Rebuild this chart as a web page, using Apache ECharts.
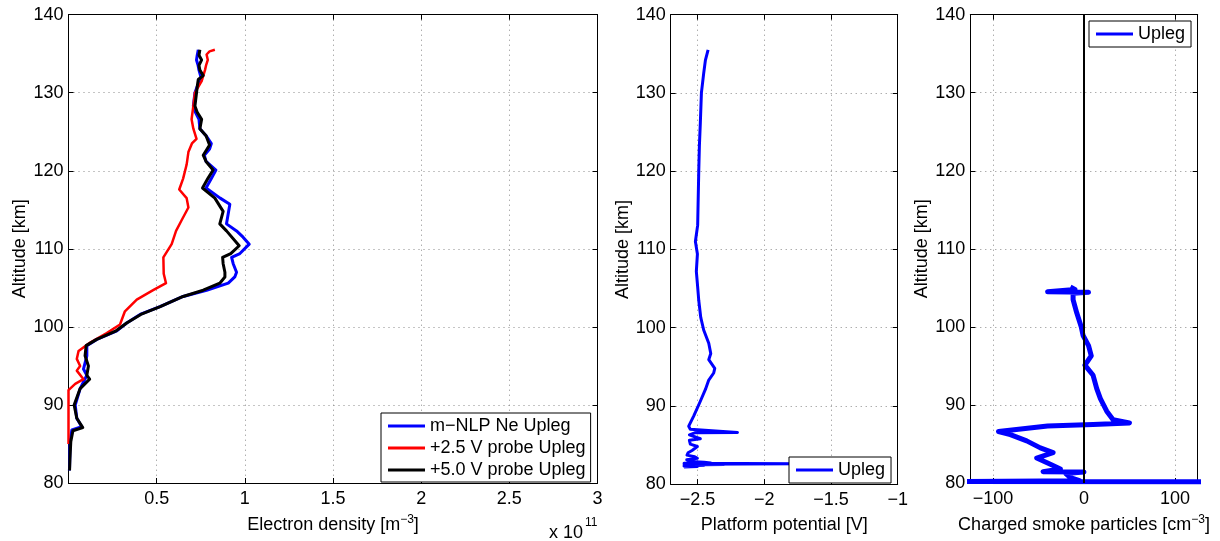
<!DOCTYPE html>
<html>
<head>
<meta charset="utf-8">
<script src="https://cdn.jsdelivr.net/npm/echarts@6/dist/echarts.min.js"></script>
<style>
html,body{margin:0;padding:0;background:#fff;}
#chart{width:1220px;height:541px;}
</style>
</head>
<body>
<div id="chart"></div>
<script>
// ---------- Tick values ----------
const altTicks = [80, 90, 100, 110, 120, 130, 140];
const neTicks = [0.5, 1, 1.5, 2, 2.5, 3];
const potTicks = [-2.5, -2, -1.5, -1];
const smokeTicks = [-100, 0, 100];

// ---------- Panel 1: electron density (x 1e11 m^-3) vs altitude (km) ----------
const blueAlt = [135.5,134.8,134.2,133.5,132.9,131.7,130.8,130,128.3,127.5,126.6,125.4,124.5,123.5,122.8,122,121.2,120.1,119,117.8,116.5,115.7,114.4,113.2,112.3,111.5,110.6,109.4,108.9,108.1,107,106.4,105.6,104.7,103.9,102.6,101.6,100.5,99.5,98.4,97.6,96.3,94.6,93.8,92.1,90,88.3,87.2,86.8,85.3,82,81.6];
const blueNe  = [0.736,0.73,0.726,0.735,0.74,0.755,0.73,0.717,0.708,0.72,0.74,0.745,0.78,0.81,0.80,0.77,0.78,0.836,0.81,0.78,0.86,0.915,0.905,0.896,0.953,0.99,1.025,0.972,0.925,0.934,0.953,0.943,0.906,0.783,0.65,0.519,0.406,0.33,0.274,0.16,0.104,0.104,0.085,0.104,0.066,0.038,0.047,0.075,0.019,0.009,0.006,0.005];

const redAlt = [135.5,135.3,134.9,134.2,133.5,132.9,131.5,130,128.3,126.6,125.4,124.1,123.5,122.4,120.8,119,117.6,116.5,115.3,113.6,112.3,110.6,108.9,106.8,105.6,104.7,103.5,102,100.3,99.2,98,96.9,95.9,95,94.4,93.3,92.7,91.9,85];
const redNe  = [0.83,0.80,0.783,0.79,0.78,0.774,0.755,0.717,0.708,0.698,0.708,0.726,0.70,0.68,0.67,0.65,0.628,0.67,0.68,0.64,0.61,0.585,0.538,0.54,0.553,0.48,0.387,0.32,0.292,0.217,0.123,0.057,0.047,0.066,0.047,0.085,0.038,0,0];

const blackAlt = [135.5,134.8,134.2,133.5,132.9,132.2,131.7,130.8,130,128.3,127.5,126.6,125.4,124.5,123.3,122,121.2,120.1,119,117.8,116.5,114.8,113.2,112.3,110.4,109.4,108.9,108.1,107,106.4,105.6,104.7,103.9,102.6,101.6,100.5,99.5,98.4,97.6,96.3,95,93.8,93.3,92.1,90,88.3,87.1,86.7,85.3,83,81.6];
const blackNe  = [0.745,0.74,0.755,0.74,0.745,0.764,0.736,0.73,0.726,0.717,0.73,0.755,0.745,0.78,0.80,0.764,0.78,0.82,0.79,0.76,0.83,0.877,0.858,0.896,0.968,0.92,0.874,0.877,0.887,0.887,0.858,0.764,0.65,0.52,0.41,0.33,0.27,0.16,0.10,0.094,0.113,0.104,0.12,0.066,0.032,0.047,0.081,0.025,0.013,0.008,0.006];

// ---------- Panel 2: platform potential (V) ----------
const potAlt = [135.5,134.2,132.5,130,126.2,123.3,119.9,115.7,113.1,111,109.4,107.2,105.6,103.5,101.3,99.7,98,96.7,95.9,94.8,94.2,93.3,92.1,90.4,88.7,87.4,87,86.6,86.55,86.3,85.8,85.6,85.1,84.8,84.3,84.0,83.7,83.5,83.3,83.1,82.9,82.8,82.7,82.65,82.6,82.55,82.5,82.45,82.4,82.3,82.25,82.2];
const potV   = [-2.42,-2.44,-2.453,-2.47,-2.478,-2.485,-2.49,-2.495,-2.498,-2.515,-2.5,-2.508,-2.5,-2.49,-2.475,-2.453,-2.415,-2.40,-2.415,-2.37,-2.378,-2.415,-2.44,-2.483,-2.528,-2.565,-2.553,-2.2,-2.52,-2.56,-2.478,-2.56,-2.553,-2.5,-2.54,-2.57,-2.578,-2.52,-2.5,-2.58,-2.55,-2.45,-2.4,-2.6,-1.75,-2.58,-2.3,-2.6,-2.45,-2.6,-2.5,-2.6];

// ---------- Panel 3: charged smoke particles (cm^-3) ----------
const smokeAlt = [105.1,104.8,104.5,104.45,104.3,103.5,101.8,100,98.9,97.6,96.3,95.1,93.8,92.1,90.8,89.2,88.1,87.7,87.5,87.3,86.6,86.2,85.4,84.5,83.9,83.2,82.4,81.8,81.45,81.4,81.2,80.7,80.3,80.2,80.15];
const smokeN   = [-15,-10,-40,5,-12,-12,-8,-3,-1,5,8,1,10,14,18,25,32,50,10,-40,-94,-81,-63,-48,-34,-52,-37,-26,-45,0,-20,-15,-5,-130,130];

const zeroAlt = [80, 140];
const zeroN = [0, 0];

function pairs(xs, ys) { return xs.map((x, i) => [x, ys[i]]); }
const minus = v => String(v).replace('-', '\u2212');

const FONT = "'Liberation Sans', Arial, Helvetica, sans-serif";
const FS = 18;
const grids = [
  {left: 68.5, top: 14.7, width: 529, height: 474},
  {left: 670.7, top: 14.7, width: 227, height: 474},
  {left: 970.3, top: 14.7, width: 227.4, height: 474}
];
const gridLine = {show: true, lineStyle: {color: '#8a8a8a', width: 1, type: [1, 4]}};
const axLine = {show: true, onZero: false, lineStyle: {color: '#000', width: 1}};
const tick = (vals) => ({show: true, inside: true, length: 5, lineStyle: {color: '#000'}, customValues: vals});

function xAxes(gi, min, max, vals, name, fmt, gap) {
  return [
    {type: 'value', gridIndex: gi, min, max, position: 'bottom',
     axisLine: axLine, axisTick: tick(vals), splitLine: gridLine,
     axisLabel: {show: true, customValues: vals, formatter: fmt, color: '#000', fontSize: FS, fontFamily: FONT, margin: 7},
     name, nameLocation: 'middle', nameGap: gap,
     nameTextStyle: {color: '#000', fontSize: FS, fontFamily: FONT, lineHeight: 22,
       rich: {s: {fontSize: 12, fontFamily: FONT, verticalAlign: 'top', lineHeight: 12}}}},
    {type: 'value', gridIndex: gi, min, max, position: 'top',
     axisLine: axLine, axisTick: tick(vals), splitLine: {show: false}, axisLabel: {show: false}}
  ];
}
function yAxes(gi) {
  return [
    {type: 'value', gridIndex: gi, min: 80, max: 140, position: 'left',
     axisLine: axLine, axisTick: tick(altTicks),
     splitLine: gridLine,
     axisLabel: {customValues: altTicks, color: '#000', fontSize: FS, fontFamily: FONT, margin: 5},
     name: 'Altitude [km]', nameLocation: 'middle', nameGap: 39,
     nameTextStyle: {color: '#000', fontSize: FS, fontFamily: FONT}},
    {type: 'value', gridIndex: gi, min: 80, max: 140, position: 'right',
     axisLine: axLine, axisTick: tick(altTicks),
     splitLine: {show: false}, axisLabel: {show: false}}
  ];
}

const xAxis = [
  ...xAxes(0, 0, 3, neTicks, 'Electron density [m{s|\u22123}]', v => String(v), 31),
  ...xAxes(1, -2.7, -1, potTicks, 'Platform potential [V]', minus, 25),
  ...xAxes(2, -125, 125, smokeTicks, 'Charged smoke particles [cm{s|\u22123}]', minus, 31)
];
const yAxis = [...yAxes(0), ...yAxes(1), ...yAxes(2)];

function line(name, xi, yi, data, color, width) {
  return {type: 'line', name, xAxisIndex: xi, yAxisIndex: yi, data, showSymbol: false, symbol: 'none',
          clip: true, lineStyle: {color, width, join: 'round'}, itemStyle: {color}, emphasis: {disabled: true}, z: 3};
}

const series = [
  line('m\u2212NLP Ne Upleg', 0, 0, pairs(blueNe, blueAlt), '#0000ff', 3),
  line('+2.5 V probe Upleg', 0, 0, pairs(redNe, redAlt), '#ff0000', 2.5),
  line('+5.0 V probe Upleg', 0, 0, pairs(blackNe, blackAlt), '#000000', 3),
  line('Upleg', 2, 2, pairs(potV, potAlt), '#0000ff', 3),
  line('zero', 4, 4, pairs(zeroN, zeroAlt), '#000000', 2),
  line('Upleg', 4, 4, pairs(smokeN, smokeAlt), '#0000ff', 5)
];
series[4].z = 4;

const legendBase = {orient: 'vertical', icon: 'rect', itemWidth: 37, itemHeight: 3, itemGap: 4,
  borderColor: '#000', borderWidth: 1, backgroundColor: '#fff', selectedMode: false,
  textStyle: {color: '#000', fontSize: FS, fontFamily: FONT, lineHeight: 18}};
const legend = [
  Object.assign({}, legendBase, {data: ['m\u2212NLP Ne Upleg', '+2.5 V probe Upleg', '+5.0 V probe Upleg'],
    left: 381, top: 413, padding: [4, 5, 3, 7]}),
  Object.assign({}, legendBase, {data: ['Upleg'], left: 789, top: 457, padding: [4, 6, 4, 7]}),
  Object.assign({}, legendBase, {data: ['Upleg'], left: 1089, top: 21, padding: [4, 6, 4, 7]})
];

const chart = echarts.init(document.getElementById('chart'), null, {renderer: 'canvas'});
chart.setOption({
  animation: false,
  backgroundColor: '#fff',
  grid: grids,
  xAxis, yAxis, series, legend,
  graphic: [
    {type: 'text', left: 549, top: 524, style: {text: 'x 10', fontSize: FS, fontFamily: FONT, fill: '#000'}},
    {type: 'text', left: 585, top: 517, style: {text: '11', fontSize: 12, fontFamily: FONT, fill: '#000'}}
  ]
});
</script>
</body>
</html>
